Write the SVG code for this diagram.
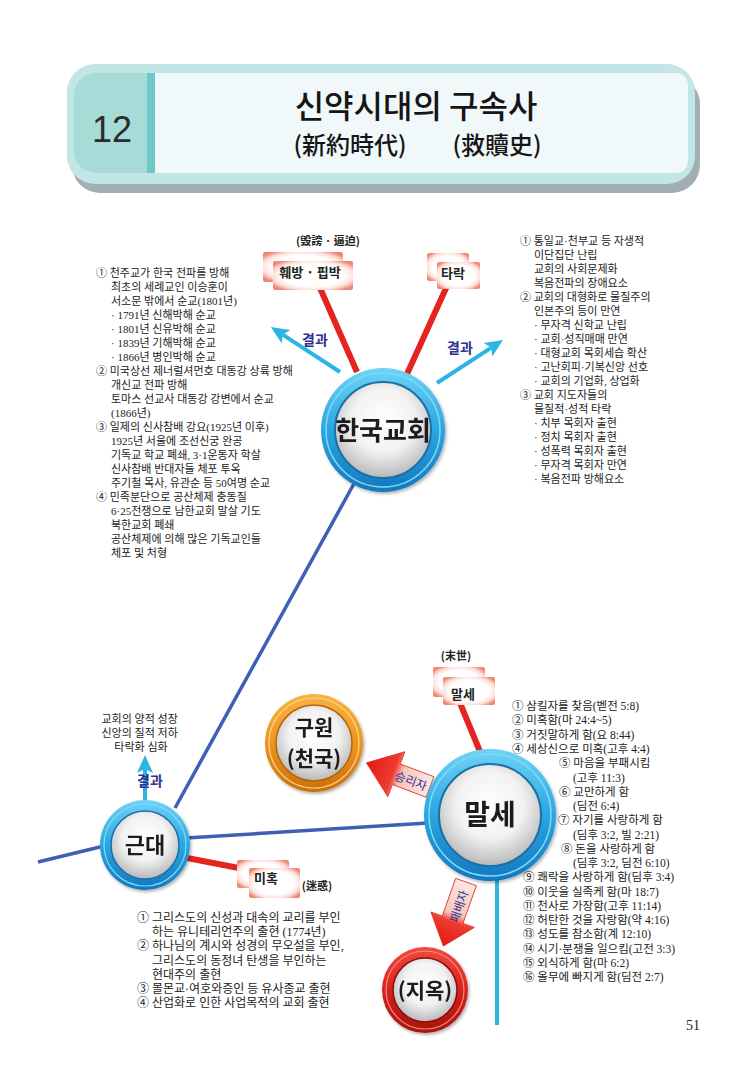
<svg xmlns="http://www.w3.org/2000/svg" width="756" height="1082" viewBox="0 0 756 1082">
<style>
.t{font-family:"Liberation Serif","Noto Sans CJK KR",serif;font-size:11px;fill:#222}
.t12{font-size:12px}
.t115{font-size:11.5px}
.node{font-family:"Noto Sans CJK KR","Liberation Sans",sans-serif;font-weight:700;fill:#1a1a1a;text-anchor:middle}
.lab{font-family:"Noto Sans CJK KR","Liberation Sans",sans-serif;font-weight:700;font-size:13px;fill:#222;text-anchor:middle}
.han{font-family:"Noto Sans CJK KR","Liberation Sans",sans-serif;font-weight:700;font-size:11px;fill:#222;text-anchor:middle}
.res{font-family:"Noto Sans CJK KR","Liberation Sans",sans-serif;font-weight:700;font-size:14px;fill:#2e3192;text-anchor:middle}
.red{stroke:#e52420;stroke-width:6;fill:none}
.blu{stroke:#3d5fb5;stroke-width:3.5;fill:none}
.cy{stroke:#2ab5e2;stroke-width:4;fill:none;marker-end:url(#ah)}
.box{fill:url(#boxG)}
</style>
<defs>
<marker id="ah" viewBox="0 0 18 16" refX="4" refY="8" markerWidth="18" markerHeight="16" markerUnits="userSpaceOnUse" orient="auto">
<path d="M0,0 L18,8 L0,16 L4,8 z" fill="#2ab5e2"/>
</marker>
<linearGradient id="ringB" x1="0" y1="0" x2="0" y2="1">
<stop offset="0" stop-color="#6fd3f7"/><stop offset="0.5" stop-color="#2aa6e0"/><stop offset="1" stop-color="#1577bd"/>
</linearGradient>
<linearGradient id="ringO" x1="0" y1="0" x2="0" y2="1">
<stop offset="0" stop-color="#f8b440"/><stop offset="0.5" stop-color="#ee9420"/><stop offset="1" stop-color="#c9700c"/>
</linearGradient>
<linearGradient id="ringR" x1="0" y1="0" x2="0" y2="1">
<stop offset="0" stop-color="#f04a40"/><stop offset="0.5" stop-color="#d8221c"/><stop offset="1" stop-color="#a8120e"/>
</linearGradient>
<radialGradient id="silver" cx="0.5" cy="0.4" r="0.6">
<stop offset="0" stop-color="#ffffff"/><stop offset="0.55" stop-color="#f2f2f2"/><stop offset="1" stop-color="#b9b9b9"/>
</radialGradient>
<radialGradient id="boxG" cx="0.5" cy="0.5" r="0.62">
<stop offset="0" stop-color="#ffffff"/><stop offset="0.62" stop-color="#ffffff"/><stop offset="0.82" stop-color="#fde0da"/><stop offset="1" stop-color="#f08672"/>
</radialGradient>
<linearGradient id="arrG1" x1="1" y1="0" x2="0" y2="0">
<stop offset="0" stop-color="#fde6e3"/><stop offset="0.45" stop-color="#f8c4bd"/><stop offset="0.58" stop-color="#ee3b30"/><stop offset="1" stop-color="#e01a12"/>
</linearGradient>
<linearGradient id="arrG2" x1="0" y1="0" x2="1" y2="0">
<stop offset="0" stop-color="#fde6e3"/><stop offset="0.5" stop-color="#f8c4bd"/><stop offset="0.62" stop-color="#ee3b30"/><stop offset="1" stop-color="#e01a12"/>
</linearGradient>
<filter id="sh" x="-20%" y="-20%" width="140%" height="140%">
<feDropShadow dx="1.5" dy="2" stdDeviation="1.5" flood-color="#000" flood-opacity="0.3"/>
</filter>
</defs>
<rect width="756" height="1082" fill="#ffffff"/>

<g id="header">
<rect x="72" y="76" width="628" height="117" rx="28" fill="#a3aeb4"/>
<rect x="67" y="64" width="628" height="120" rx="28" fill="#c2e5e5"/>
<path d="M96,73 H150 V173 H96 A22,22 0 0 1 74,151 V95 A22,22 0 0 1 96,73 z" fill="#a7dbd7"/>
<rect x="147" y="73" width="8" height="100" fill="#70c9c8"/>
<path d="M155,73 H676 A12,12 0 0 1 688,85 V161 A12,12 0 0 1 676,173 H155 z" fill="#f1f8f9"/>
<text x="112" y="142" font-family="Liberation Sans, Arial, sans-serif" font-size="36" fill="#2b2b2b" text-anchor="middle">12</text>
<text x="416" y="118" font-family="Noto Sans CJK KR, sans-serif" font-weight="500" font-size="32" fill="#151515" text-anchor="middle">신약시대의 구속사</text>
<text x="350" y="154" font-family="Noto Sans CJK KR, sans-serif" font-weight="500" font-size="24" fill="#151515" text-anchor="middle">(新約時代)</text>
<text x="497" y="154" font-family="Noto Sans CJK KR, sans-serif" font-weight="500" font-size="24" fill="#151515" text-anchor="middle">(救贖史)</text>
</g>

<g id="connectors">
<line class="blu" x1="38" y1="862" x2="104" y2="846"/>
<line class="blu" x1="186" y1="838" x2="428" y2="823"/>
<line class="blu" x1="356" y1="480" x2="175" y2="808"/>
<line x1="497" y1="872" x2="497" y2="1025" stroke="#2ab5e2" stroke-width="4"/>
<line class="red" x1="320" y1="288" x2="357" y2="372"/>
<line class="red" x1="447" y1="286" x2="407" y2="374"/>
<line class="red" x1="460" y1="703" x2="481" y2="754"/>
<line class="red" x1="182" y1="857" x2="244" y2="869"/>
<line class="cy" x1="340" y1="372" x2="282.7" y2="334.6"/>
<line class="cy" x1="437" y1="383" x2="491.3" y2="347.6"/>
<line class="cy" x1="145" y1="800" x2="145" y2="769"/>
<text class="res" x="315" y="345">결과</text>
<text class="res" x="460" y="353">결과</text>
<text class="res" x="150" y="786">결과</text>
<g id="arrow-winner">
<g transform="translate(430,787) rotate(20.8)">
<polygon points="0,-11 -36,-11 -36,-24 -68,0 -36,24 -36,11 0,11" fill="url(#arrG1)" stroke="#d83026" stroke-width="0.8"/>
<text x="-20" y="0" dominant-baseline="central" text-anchor="middle" font-family="Noto Sans CJK KR, sans-serif" font-size="12" fill="#2e3192">승리자</text>
</g>
</g>
<g id="arrow-loser">
<g transform="translate(466,882) rotate(109.5)">
<polygon points="0,-11 40,-11 40,-23 68,0 40,23 40,11 0,11" fill="url(#arrG2)" stroke="#d83026" stroke-width="0.8"/>
</g>
<text transform="translate(458,906) rotate(-70.5)" dominant-baseline="central" text-anchor="middle" font-family="Noto Sans CJK KR, sans-serif" font-size="12" fill="#2e3192">패배자</text>
</g>
</g>

<g id="label-hwebang">
<text class="han" x="328" y="245">(毁謗 · 逼迫)</text>
<rect class="box" x="263" y="252" width="80" height="30" rx="2"/>
<rect class="box" x="273" y="261" width="80" height="29" rx="2"/>
<text class="lab" x="310" y="277">훼방 · 핍박</text>
</g>
<g id="label-tarak">
<rect class="box" x="427" y="253" width="42" height="28" rx="2"/>
<rect class="box" x="437" y="262" width="43" height="27" rx="2"/>
<text class="lab" x="453" y="278">타락</text>
</g>
<g id="label-malse">
<text class="han" x="456" y="660">(末世)</text>
<rect class="box" x="433" y="667" width="52" height="30" rx="2"/>
<rect class="box" x="443" y="677" width="52" height="28" rx="2"/>
<text class="lab" x="463" y="699">말세</text>
</g>
<g id="label-mihok">
<rect class="box" x="237" y="860" width="52" height="28" rx="2"/>
<rect class="box" x="249" y="868" width="51" height="30" rx="2"/>
<text class="lab" x="266" y="883">미혹</text>
<text class="han" x="317" y="890">(迷惑)</text>
</g>

<g id="node-hankook" filter="url(#sh)">
<circle cx="383" cy="430" r="62" fill="url(#ringB)"/>
<circle cx="383" cy="430" r="57" fill="none" stroke="#7fd8f8" stroke-width="1.5"/>
<circle cx="383" cy="430" r="48" fill="url(#silver)" stroke="#1a6fa8" stroke-width="2"/>
<text class="node" x="383" y="440" font-size="26">한국교회</text>
</g>
<g id="node-geundae" filter="url(#sh)">
<circle cx="145" cy="845" r="45" fill="url(#ringB)"/>
<circle cx="145" cy="845" r="41" fill="none" stroke="#7fd8f8" stroke-width="1.2"/>
<circle cx="145" cy="845" r="34" fill="url(#silver)" stroke="#1a6fa8" stroke-width="1.5"/>
<text class="node" x="145" y="853" font-size="22">근대</text>
</g>
<g id="node-malse" filter="url(#sh)">
<circle cx="490" cy="815" r="66" fill="url(#ringB)"/>
<circle cx="490" cy="815" r="61" fill="none" stroke="#7fd8f8" stroke-width="1.5"/>
<circle cx="490" cy="815" r="51" fill="url(#silver)" stroke="#1a6fa8" stroke-width="2"/>
<text class="node" x="490" y="825" font-size="28">말세</text>
</g>
<g id="node-guwon" filter="url(#sh)">
<circle cx="314" cy="743" r="49" fill="url(#ringO)"/>
<circle cx="314" cy="743" r="45" fill="none" stroke="#fcd48a" stroke-width="1.2"/>
<circle cx="314" cy="743" r="38" fill="url(#silver)" stroke="#b86408" stroke-width="1.5"/>
<text class="node" x="314" y="735" font-size="21">구원</text>
<text class="node" x="314" y="766" font-size="21">(천국)</text>
</g>
<g id="node-jiok" filter="url(#sh)">
<circle cx="425" cy="990" r="43" fill="url(#ringR)"/>
<circle cx="425" cy="990" r="39" fill="none" stroke="#f88a80" stroke-width="1.2"/>
<circle cx="425" cy="990" r="32" fill="url(#silver)" stroke="#8e0e0a" stroke-width="1.5"/>
<text class="node" x="425" y="998" font-size="21">(지옥)</text>
</g>

<g id="text-korea-left">
<text class="t">
<tspan x="96" y="277">① 천주교가 한국 전파를 방해</tspan>
<tspan x="111" y="291">최초의 세례교인 이승훈이</tspan>
<tspan x="111" y="305">서소문 밖에서 순교(1801년)</tspan>
<tspan x="111" y="319">· 1791년 신해박해 순교</tspan>
<tspan x="111" y="333">· 1801년 신유박해 순교</tspan>
<tspan x="111" y="347">· 1839년 기해박해 순교</tspan>
<tspan x="111" y="361">· 1866년 병인박해 순교</tspan>
<tspan x="96" y="375">② 미국상선 제너럴셔먼호 대동강 상륙 방해</tspan>
<tspan x="111" y="389">개신교 전파 방해</tspan>
<tspan x="111" y="403">토마스 선교사 대동강 강변에서 순교</tspan>
<tspan x="111" y="417">(1866년)</tspan>
<tspan x="96" y="431">③ 일제의 신사참배 강요(1925년 이후)</tspan>
<tspan x="111" y="445">1925년 서울에 조선신궁 완공</tspan>
<tspan x="111" y="459">기독교 학교 폐쇄, 3·1운동자 학살</tspan>
<tspan x="111" y="473">신사참배 반대자들 체포 투옥</tspan>
<tspan x="111" y="487">주기철 목사, 유관순 등 50여명 순교</tspan>
<tspan x="96" y="501">④ 민족분단으로 공산체제 충동질</tspan>
<tspan x="111" y="515">6·25전쟁으로 남한교회 말살 기도</tspan>
<tspan x="111" y="529">북한교회 폐쇄</tspan>
<tspan x="111" y="543">공산체제에 의해 많은 기독교인들</tspan>
<tspan x="111" y="557">체포 및 처형</tspan>
</text>
</g>
<g id="text-korea-right">
<text class="t">
<tspan x="520" y="245">① 통일교·천부교 등 자생적</tspan>
<tspan x="534" y="259">이단집단 난립</tspan>
<tspan x="534" y="273">교회의 사회문제화</tspan>
<tspan x="534" y="287">복음전파의 장애요소</tspan>
<tspan x="520" y="301">② 교회의 대형화로 물질주의</tspan>
<tspan x="534" y="315">인본주의 등이 만연</tspan>
<tspan x="534" y="329">· 무자격 신학교 난립</tspan>
<tspan x="534" y="343">· 교회·성직매매 만연</tspan>
<tspan x="534" y="357">· 대형교회 목회세습 확산</tspan>
<tspan x="534" y="371">· 고난회피·기복신앙 선호</tspan>
<tspan x="534" y="385">· 교회의 기업화, 상업화</tspan>
<tspan x="520" y="399">③ 교회 지도자들의</tspan>
<tspan x="534" y="413">물질적·성적 타락</tspan>
<tspan x="534" y="427">· 치부 목회자 출현</tspan>
<tspan x="534" y="441">· 정치 목회자 출현</tspan>
<tspan x="534" y="455">· 성폭력 목회자 출현</tspan>
<tspan x="534" y="469">· 무자격 목회자 만연</tspan>
<tspan x="534" y="483">· 복음전파 방해요소</tspan>
</text>
</g>
<g id="text-modern-result">
<text class="t" text-anchor="middle">
<tspan x="141" y="723">교회의 양적 성장</tspan>
<tspan x="141" y="737">신앙의 질적 저하</tspan>
<tspan x="141" y="751">타락화 심화</tspan>
</text>
</g>
<g id="text-modern">
<text class="t t12">
<tspan x="137" y="922">① 그리스도의 신성과 대속의 교리를 부인</tspan>
<tspan x="152" y="936">하는 유니테리언주의 출현 (1774년)</tspan>
<tspan x="137" y="950">② 하나님의 계시와 성경의 무오설을 부인,</tspan>
<tspan x="152" y="965">그리스도의 동정녀 탄생을 부인하는</tspan>
<tspan x="152" y="979">현대주의 출현</tspan>
<tspan x="137" y="993">③ 몰몬교·여호와증인 등 유사종교 출현</tspan>
<tspan x="137" y="1007">④ 산업화로 인한 사업목적의 교회 출현</tspan>
</text>
</g>
<g id="text-endtimes">
<text class="t t115">
<tspan x="512" y="710">① 삼킬자를 찾음(벧전 5:8)</tspan>
<tspan x="512" y="724">② 미혹함(마 24:4~5)</tspan>
<tspan x="512" y="739">③ 거짓말하게 함(요 8:44)</tspan>
<tspan x="512" y="753">④ 세상신으로 미혹(고후 4:4)</tspan>
<tspan x="559" y="767">⑤ 마음을 부패시킴</tspan>
<tspan x="573" y="782">(고후 11:3)</tspan>
<tspan x="559" y="796">⑥ 교만하게 함</tspan>
<tspan x="573" y="810">(딤전 6:4)</tspan>
<tspan x="558" y="824">⑦ 자기를 사랑하게 함</tspan>
<tspan x="573" y="839">(딤후 3:2, 빌 2:21)</tspan>
<tspan x="561" y="853">⑧ 돈을 사랑하게 함</tspan>
<tspan x="573" y="867">(딤후 3:2, 딤전 6:10)</tspan>
<tspan x="523" y="881">⑨ 쾌락을 사랑하게 함(딤후 3:4)</tspan>
<tspan x="523" y="896">⑩ 이웃을 실족케 함(마 18:7)</tspan>
<tspan x="523" y="910">⑪ 천사로 가장함(고후 11:14)</tspan>
<tspan x="523" y="924">⑫ 허탄한 것을 자랑함(약 4:16)</tspan>
<tspan x="523" y="938">⑬ 성도를 참소함(계 12:10)</tspan>
<tspan x="523" y="953">⑭ 시기·분쟁을 일으킴(고전 3:3)</tspan>
<tspan x="523" y="967">⑮ 외식하게 함(마 6:2)</tspan>
<tspan x="523" y="981">⑯ 올무에 빠지게 함(딤전 2:7)</tspan>
</text>
</g>
<text x="686" y="1030" font-family="Liberation Serif, serif" font-size="14" fill="#222">51</text>
</svg>
